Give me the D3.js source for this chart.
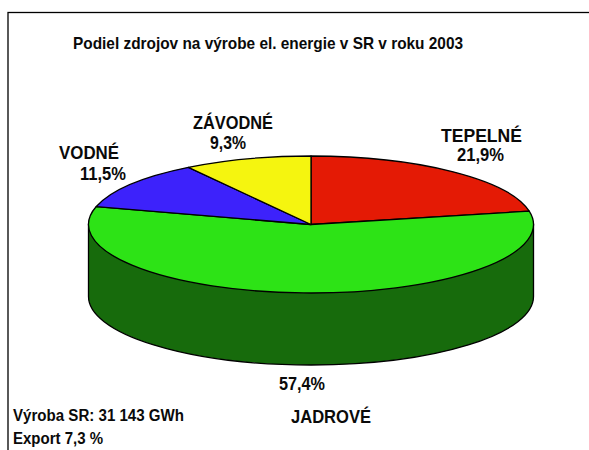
<!DOCTYPE html>
<html><head><meta charset="utf-8">
<style>html,body{margin:0;padding:0;background:#fff;overflow:hidden}svg{display:block}
text{font-family:"Liberation Sans",Arial,sans-serif;font-weight:bold;fill:#0a0a0a}</style>
<script src="https://cdn.jsdelivr.net/npm/d3@7/dist/d3.min.js"></script>
</head><body><svg id="c" width="589" height="450"></svg>
<script>
const categories = ["TEPELNÉ","JADROVÉ","VODNÉ","ZÁVODNÉ"];
const shares = [21.9,57.4,11.5,9.3];
const shareLabels = ["21,9%","57,4%","11,5%","9,3%"];
const colors = ["#e41a05","#2de316","#3d22fb","#f5f50f"];
const sideColor = "#176b0c";
const title = "Podiel zdrojov na výrobe el. energie v SR v roku 2003";
const notes = ["Výroba SR: 31 143 GWh","Export 7,3 %"];

const svg = d3.select("#c");
const cx=311, cy=224.5, rx=222.5, ry=68.5, depth=72;
const scaleY = ry/rx;

// frame, open past the right and bottom edges of the picture
svg.append("rect").attr("x",8).attr("y",12.5).attr("width",600).attr("height",460)
  .attr("fill","#fff").attr("stroke","#000").attr("stroke-width",1.3);

const pie = d3.pie().sort(null).value(d=>d);
const arcs = pie(shares);
const arc = d3.arc().innerRadius(0).outerRadius(rx);

// side wall: one outline, its top closed off underneath the top face
const wall = d3.path();
wall.moveTo(-rx,-depth/scaleY);
wall.lineTo(-rx,0);
wall.arc(0,0,rx,Math.PI,0,true);
wall.lineTo(rx,-depth/scaleY);
wall.closePath();
svg.append("path").attr("d",wall.toString())
  .attr("transform",`translate(${cx},${cy+depth}) scale(1,${scaleY})`)
  .attr("fill",sideColor).attr("stroke","#000").attr("stroke-width",1.3)
  .attr("vector-effect","non-scaling-stroke");

// top face
svg.append("g").attr("transform",`translate(${cx},${cy}) scale(1,${scaleY})`)
  .selectAll("path").data(arcs).join("path")
  .attr("d",arc).attr("fill",(d,i)=>colors[i])
  .attr("stroke","#000").attr("stroke-width",1.3).attr("vector-effect","non-scaling-stroke")
  .attr("stroke-linejoin","round");

function txt(s,x,y,size,w){
  return svg.append("text").attr("x",x).attr("y",y).attr("font-size",size)
    .attr("textLength",w).attr("lengthAdjust","spacingAndGlyphs").text(s);
}
txt(title,73,49,17,390);
txt(categories[0],441,142,18,81); txt(shareLabels[0],457,161,17.5,47);
txt(categories[1],291,423,18,80); txt(shareLabels[1],279,390,17.5,46);
txt(categories[2],59,159,18,60);  txt(shareLabels[2],80,180,17.5,46);
txt(categories[3],193,129,18,80); txt(shareLabels[3],210,149,17.5,36);
txt(notes[0],13,421,16,171);
txt(notes[1],13,444,16,90);
</script></body></html>
